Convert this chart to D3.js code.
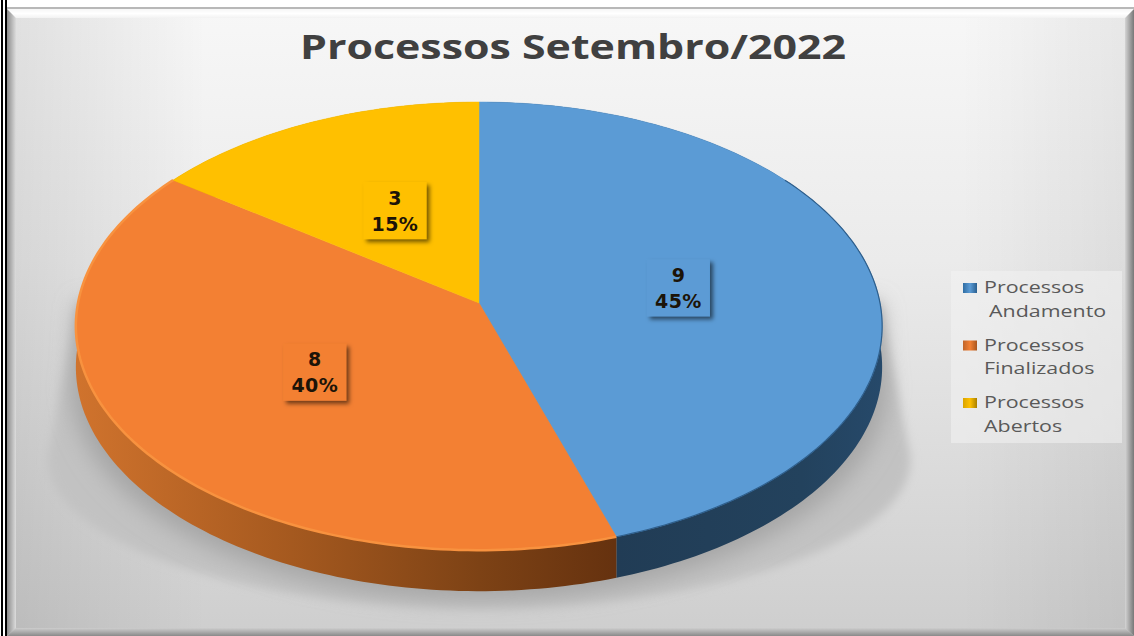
<!DOCTYPE html>
<html>
<head>
<meta charset="utf-8">
<script src="https://cdn.jsdelivr.net/npm/d3@7"></script>
<style>
  html, body { margin: 0; background: #fff; }
  svg { display: block; }
</style>
</head>
<body>
<div id="chart"></div>
<script>
  const titleText = "Processos Setembro/2022";
  const categories = ["Processos Andamento", "Processos Finalizados", "Processos Abertos"];
  const values = [9, 8, 3];
  const percents = ["45%", "40%", "15%"];
  const topColors = ["#5b9bd5", "#f38033", "#ffc000"];

  const width = 1134, height = 636;
  const center = { x: 479, y: 303 };
  // perspective of the tilted disc
  const persp = { a: 401, c: 221.7, b: 0.103 };
  const depth = 41;

  const svg = d3.select("#chart").append("svg")
    .attr("width", width)
    .attr("height", height);
  const defs = svg.append("defs");

  function gradient(id, attrs, stops) {
    const g = defs.append("linearGradient")
      .attr("id", id)
      .attr("gradientUnits", attrs.user ? "userSpaceOnUse" : "objectBoundingBox");
    Object.keys(attrs).filter(k => k !== "user").forEach(k => g.attr(k, attrs[k]));
    stops.forEach(s => g.append("stop").attr("offset", s[0]).attr("stop-color", s[1]).attr("stop-opacity", s[2] === undefined ? 1 : s[2]));
    return g;
  }

  gradient("bg", { x1: 0, x2: 0, y1: 0, y2: 1 }, [
    [0, "#f7f7f7"], [0.4, "#ebebeb"], [1, "#cecece"]
  ]);
  gradient("edgeLeft", { x1: 0, x2: 1, y1: 0, y2: 0 }, [[0, "#000", 0.09], [1, "#000", 0]]);
  gradient("edgeRight", { x1: 0, x2: 1, y1: 0, y2: 0 }, [[0, "#000", 0], [1, "#000", 0.06]]);
  gradient("bevelLeft", { x1: 0, x2: 1, y1: 0, y2: 0 }, [[0, "#8c8c8c"], [1, "#dcdcdc"]]);
  gradient("bevelRight", { x1: 0, x2: 1, y1: 0, y2: 0 }, [[0, "#d4d4d4"], [1, "#787878"]]);
  gradient("bevelBottom", { x1: 0, x2: 0, y1: 0, y2: 1 }, [[0, "#cdcdcd"], [1, "#8a8a8a"]]);
  gradient("bevelTop", { x1: 0, x2: 0, y1: 0, y2: 1 }, [[0, "#f6f6f6"], [0.5, "#ffffff"], [1, "#f2f2f2"]]);

  // side wall colours per slice
  gradient("side0", { user: true, x1: 614, x2: 882, y1: 0, y2: 0 }, [[0, "#213c55"], [0.7, "#23425d"], [1, "#26496a"]]);
  gradient("side1", { user: true, x1: 76, x2: 614, y1: 0, y2: 0 }, [[0, "#d0732d"], [0.4, "#a5591f"], [0.75, "#7d4215"], [1, "#66320f"]]);
  gradient("side2", { user: true, x1: 175, x2: 479, y1: 0, y2: 0 }, [[0, "#bf9000"], [1, "#bf9000"]]);

  // legend keys have a small bevelled look
  gradient("key0", { x1: 0, x2: 1, y1: 0, y2: 0 }, [[0, "#2f6da3"], [0.5, "#5b9bd5"], [1, "#2a5f8f"]]);
  gradient("key1", { x1: 0, x2: 1, y1: 0, y2: 0 }, [[0, "#c0652a"], [0.5, "#f38033"], [1, "#a9561f"]]);
  gradient("key2", { x1: 0, x2: 1, y1: 0, y2: 0 }, [[0, "#d9a400"], [0.5, "#ffc000"], [1, "#a98000"]]);

  function blur(id, dev) {
    defs.append("filter").attr("id", id)
      .attr("x", "-20%").attr("y", "-20%").attr("width", "140%").attr("height", "140%")
      .append("feGaussianBlur").attr("stdDeviation", dev);
  }
  blur("blurWide", 11);
  blur("blurSoft", 5);
  defs.append("filter").attr("id", "labelShadow")
    .attr("x", "-30%").attr("y", "-30%").attr("width", "170%").attr("height", "170%")
    .append("feDropShadow")
    .attr("dx", 3).attr("dy", 3).attr("stdDeviation", 2)
    .attr("flood-color", "#000").attr("flood-opacity", 0.55);

  // frame: two thin black rules on the left, then the bevelled panel
  const frame = svg.append("g");
  frame.append("rect").attr("x", 1).attr("y", 0).attr("width", 2).attr("height", height).attr("fill", "#000");
  frame.append("rect").attr("x", 5).attr("y", 0).attr("width", 2).attr("height", height).attr("fill", "#000");
  frame.append("rect").attr("x", 7).attr("y", 7).attr("width", width - 7).attr("height", 2).attr("fill", "#b8b8b8");
  frame.append("rect").attr("x", 7).attr("y", 9).attr("width", width - 7).attr("height", height - 9).attr("fill", "url(#bg)");
  frame.append("rect").attr("x", 16).attr("y", 9).attr("width", 190).attr("height", height - 9).attr("fill", "url(#edgeLeft)");
  frame.append("rect").attr("x", 960).attr("y", 9).attr("width", 165).attr("height", height - 9).attr("fill", "url(#edgeRight)");

  const inner = { l: 16, t: 18, r: width - 9, b: height - 8 };
  frame.append("path").attr("fill", "url(#bevelTop)")
    .attr("d", `M7,9L${width},9L${inner.r},${inner.t}L${inner.l},${inner.t}Z`);
  frame.append("path").attr("fill", "url(#bevelLeft)")
    .attr("d", `M7,9L${inner.l},${inner.t}L${inner.l},${inner.b}L7,${height}Z`);
  frame.append("path").attr("fill", "url(#bevelRight)")
    .attr("d", `M${width},9L${inner.r},${inner.t}L${inner.r},${inner.b}L${width},${height}Z`);
  frame.append("path").attr("fill", "url(#bevelBottom)")
    .attr("d", `M7,${height}L${inner.l},${inner.b}L${inner.r},${inner.b}L${width},${height}Z`);

  // angle (clockwise from 12 o'clock) and radius fraction -> screen
  function project(angle, f) {
    const u = Math.sin(angle) * f, v = Math.cos(angle) * f;
    const w = 1 + persp.b * v;
    return [center.x + persp.a * u / w, center.y - persp.c * v / w];
  }

  function edgePoints(a0, a1) {
    const n = Math.ceil((a1 - a0) / 0.02);
    return d3.range(n + 1).map(i => project(a0 + (a1 - a0) * i / n, 1));
  }

  const line = d3.line();
  const slices = d3.pie().sort(null)(values);

  // ground shadow: a flatter, wider half ellipse hanging below the disc
  function shadowPath(sx, sy, dy) {
    const near = edgePoints(Math.PI * 0.5, Math.PI * 1.5)
      .map(p => [center.x + (p[0] - center.x) * sx, center.y + dy + (p[1] - center.y) * sy]);
    return line([[center.x + persp.a, center.y], ...near, [center.x - persp.a, center.y]]) + "Z";
  }
  const shadow = svg.append("g");
  shadow.append("path").attr("d", shadowPath(1.07, 0.66, 142)).attr("fill", "#c2c2c2").attr("filter", "url(#blurSoft)");
  shadow.append("path").attr("d", shadowPath(1.01, 0.95, 62)).attr("fill", "#a6a6a6").attr("filter", "url(#blurWide)");

  // side walls
  svg.append("g").selectAll("path")
    .data(slices)
    .join("path")
    .attr("fill", (d, i) => `url(#side${i})`)
    .attr("d", d => {
      const e = edgePoints(d.startAngle, d.endAngle);
      const low = e.map(p => [p[0], p[1] + depth]).reverse();
      return line([...e, ...low]) + "Z";
    });

  // top face
  svg.append("g").selectAll("path")
    .data(slices)
    .join("path")
    .attr("fill", (d, i) => topColors[i])
    .attr("stroke", (d, i) => topColors[i])
    .attr("stroke-width", 0.5)
    .attr("d", d => line([project(0, 0), ...edgePoints(d.startAngle, d.endAngle)]) + "Z");

  // lighter rim on the orange edge, dark rim on the blue edge
  svg.append("path")
    .attr("d", line(edgePoints(slices[1].startAngle, slices[1].endAngle)))
    .attr("fill", "none").attr("stroke", "#f8923f").attr("stroke-width", 2.5);
  svg.append("path")
    .attr("d", line(edgePoints(Math.PI * 0.3, slices[0].endAngle)))
    .attr("fill", "none").attr("stroke", "#2f5f8c").attr("stroke-width", 1.2);

  // data labels
  const labelW = 63, labelH = 57;
  const labels = svg.append("g").selectAll("g")
    .data(slices)
    .join("g")
    .attr("transform", d => {
      const p = project((d.startAngle + d.endAngle) / 2, 0.5);
      return `translate(${p[0] + 3},${p[1] + 2})`;
    });
  labels.append("rect")
    .attr("x", -labelW / 2).attr("y", -labelH / 2)
    .attr("width", labelW).attr("height", labelH)
    .attr("fill", (d, i) => topColors[i])
    .attr("filter", "url(#labelShadow)");
  labels.selectAll("text")
    .data((d, i) => [[d.value, -6], [percents[i], 20]])
    .join("text")
    .attr("text-anchor", "middle")
    .attr("y", d => d[1])
    .attr("font-family", "DejaVu Sans")
    .attr("font-weight", "bold")
    .attr("font-size", 19)
    .attr("letter-spacing", 0.4)
    .attr("fill", "#1c1408")
    .text(d => d[0]);

  // title
  svg.append("text")
    .attr("x", 573)
    .attr("y", 59)
    .attr("text-anchor", "middle")
    .attr("font-family", "Open Sans")
    .attr("font-weight", "bold")
    .attr("font-size", 34)
    .attr("fill", "#404040")
    .attr("textLength", 546)
    .attr("lengthAdjust", "spacingAndGlyphs")
    .text(titleText);

  // legend
  const legend = svg.append("g");
  legend.append("rect")
    .attr("x", 951).attr("y", 271)
    .attr("width", 171).attr("height", 172)
    .attr("fill", "#f2f2f2").attr("opacity", 0.55);

  const legendY = d3.scalePoint().domain(categories).range([293, 408]);
  const legendItems = legend.selectAll("g")
    .data(categories)
    .join("g")
    .attr("transform", d => `translate(0,${legendY(d)})`);
  legendItems.append("rect")
    .attr("x", 963).attr("y", -10)
    .attr("width", 14).attr("height", 10)
    .attr("fill", (d, i) => `url(#key${i})`);
  // legend text in the picture is stretched sideways
  legendItems.each(function (d, i) {
    const words = d.split(" ");
    const g = d3.select(this);
    words.forEach((w, j) => {
      const tx = j === 1 && i === 0 ? 989 : 984;
      g.append("text")
        .attr("transform", `translate(${tx},${j * 23.5}) scale(1.26,1)`)
        .attr("font-family", "Open Sans")
        .attr("font-size", 17)
        .attr("fill", "#595959")
        .text(w);
    });
  });
</script>
</body>
</html>
